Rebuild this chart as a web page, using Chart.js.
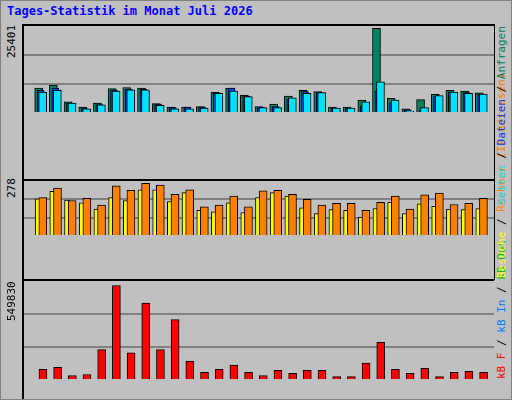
<!DOCTYPE html>
<html>
<head>
<meta charset="utf-8">
<script src="https://cdn.jsdelivr.net/npm/chart.js@4"></script>
<style>
body { margin: 0; }
#frame { position: relative; width: 510px; height: 398px; background: #C0C0C0; border: 1px solid #808080; overflow: hidden; }
.panel { position: absolute; left: 21px; width: 470px; border-top: 2px solid #000; border-left: 2px solid #000; border-right: 1px solid #000; overflow: hidden; }
.vt { position: absolute; font-family: "DejaVu Sans Mono", monospace; font-size: 11px; white-space: nowrap; transform-origin: 0 0; transform: rotate(-90deg); }
#title { position: absolute; left: 6px; top: 3px; font: bold 12px "DejaVu Sans Mono", monospace; color: #0000FF; }
</style>
</head>
<body>
<div id="frame">
  <div id="title">Tages-Statistik im Monat Juli 2026</div>
  <div class="panel" style="top:23px;height:153px"><canvas id="c1"></canvas></div>
  <div class="panel" style="top:178px;height:99px"><canvas id="c2"></canvas></div>
  <div class="panel" style="top:278px;height:121px;border-right:none"><canvas id="c3"></canvas></div>
  <div class="vt" style="left:4px;top:57px">25401</div>
  <div class="vt" style="left:4px;top:197px">278</div>
  <div class="vt" style="left:4px;top:320px">549830</div>
  <div class="vt" style="left:494px;top:378px"><span style="color:#FF0000">kB F</span> / <span style="color:#0080FF">kB In</span> / <span style="color:#00C000">kB Out</span></div>
  <div class="vt" style="left:494px;top:277px"><span style="color:#FFFF00">Besuche</span> / <span style="color:#FF8000">Rechner (IP-Adressen)</span></div>
  <div class="vt" style="left:494px;top:204px"><span style="color:#00E0FF">Seiten</span> / <span style="color:#0040FF">Dateien</span> / <span style="color:#008060">Anfragen</span></div>
</div>
<script>
// --- Data ---
const days = Array.from({length: 31}, (_, i) => i + 1);
const weekendDays = [4, 5, 11, 12, 18, 19, 25, 26];

const anfragen = [7470, 8340, 3335, 1780, 2990, 7300, 7650, 7480, 2820, 1780, 1780, 1950, 6270, 7480, 5400, 1950,
    2650, 5060, 6780, 6440, 1780, 1780, 3850, 25401, 4370, 1260, 4030, 5580, 6780, 6610, 6020];
const dateien = [6780, 7470, 3000, 1300, 2500, 6900, 7130, 7130, 2640, 1610, 1780, 1780, 6100, 7480, 5060, 1610,
    1960, 4030, 6440, 6100, 1440, 1440, 2130, 6610, 3160, 920, 750, 4890, 6270, 6100, 5680];
const seiten = [6270, 6780, 2990, 1260, 2470, 6610, 6960, 6960, 2300, 1260, 1260, 1440, 5920, 6610, 4890, 1610,
    1610, 4540, 5920, 6100, 1440, 1440, 3340, 9370, 3850, 575, 1610, 5230, 6270, 5920, 5680];

const besuche = [196, 235, 190, 175, 142, 202, 187, 244, 244, 181, 229, 136, 127, 175, 124, 202,
    229, 211, 148, 118, 139, 136, 100, 145, 178, 118, 169, 157, 142, 139, 145];
const rechner = [202, 253, 187, 199, 163, 265, 241, 278, 268, 220, 244, 154, 163, 211, 154, 238,
    241, 220, 193, 163, 172, 172, 136, 178, 211, 142, 217, 226, 166, 172, 199];

const kbytes = [62200, 74300, 26100, 32100, 176600, 549830, 158600, 447600, 176600, 351200, 110400, 44200, 62200, 86300, 44200, 26100,
    56200, 38100, 56200, 56200, 20100, 20100, 98300, 218800, 62200, 38100, 68200, 20100, 44200, 50200, 44200];

// --- Helpers ---
function pts(values) {
    return values.map((v, i) => ({x: days[i], y: v}));
}

function shiftedX(shift, showTicks) {
    return {
        type: 'linear', display: !!showTicks, min: 0.5 - shift, max: 31.5 - shift,
        grid: {display: false}, border: {display: false},
        ticks: {
            display: !!showTicks, stepSize: 1, autoSkip: false, maxRotation: 0, padding: 2,
            font: {family: 'DejaVu Sans', size: 11},
            color: ctx => weekendDays.includes(ctx.tick.value) ? '#008060' : '#000000',
            callback: v => Number.isInteger(v) && v >= 1 && v <= 31 ? String(v) : ''
        },
        afterFit: s => { s.height = 22; }
    };
}

function yScale(max) {
    return {
        min: 0, max: max, position: 'left',
        ticks: {display: false, stepSize: max / 3},
        border: {display: false},
        grid: {
            drawTicks: false, lineWidth: 2,
            color: ctx => (ctx.tick.value > 0 && ctx.tick.value < max - 1) ? '#808080' : 'rgba(0,0,0,0)'
        },
        afterFit: s => { s.width = 0; }
    };
}

function bar(values, color, xID, thickness) {
    return {
        data: pts(values), xAxisID: xID, backgroundColor: color,
        borderColor: '#000', borderWidth: 1, barThickness: thickness, grouped: false
    };
}

function makeChart(id, datasets, xScales, max) {
    const scales = Object.assign({y: yScale(max)}, xScales);
    return new Chart(document.getElementById(id), {
        type: 'bar',
        data: {datasets: datasets},
        options: {
            responsive: true, animation: false, maintainAspectRatio: false,
            layout: {padding: 0},
            plugins: {legend: {display: false}, tooltip: {enabled: false}},
            scales: scales
        }
    });
}

// top: first dataset is drawn on top (Seiten over Dateien over Anfragen)
makeChart('c1', [
    bar(seiten, '#00E0FF', 'xc', 8),
    bar(dateien, '#0040FF', 'xb', 7),
    bar(anfragen, '#008060', 'xa', 8)
], {xa: shiftedX(0), xb: shiftedX(0.13), xc: shiftedX(0.27)}, 26090);

// middle: Rechner drawn over Besuche
makeChart('c2', [
    bar(rechner, '#FF8000', 'xr', 8),
    bar(besuche, '#FFFF00', 'xv', 5)
], {xv: shiftedX(-0.07), xr: shiftedX(0.28)}, 290);

// bottom: kB
makeChart('c3', [
    bar(kbytes, '#FF0000', 'x', 8)
], {x: shiftedX(0.29, true)}, 576000);
</script>
</body>
</html>
